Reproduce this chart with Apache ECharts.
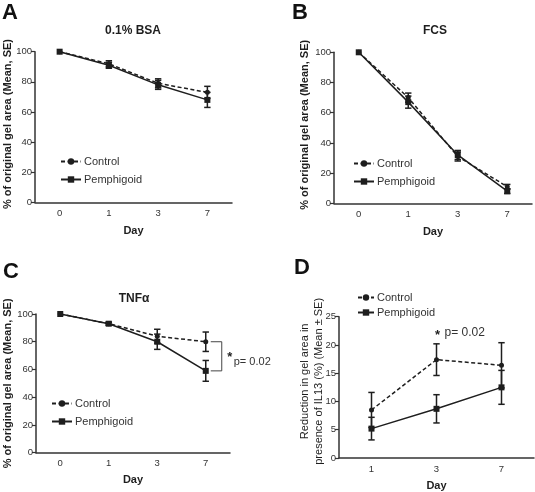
<!DOCTYPE html>
<html><head><meta charset="utf-8">
<script src="https://cdn.jsdelivr.net/npm/echarts@6/dist/echarts.min.js"></script>
<style>html,body{margin:0;padding:0;background:#fff}#c{width:535px;height:492px}</style>
</head><body><div id="c"></div>
<script>
// ---- data ----
const daysABC = ['0', '1', '3', '7'];
const daysD = ['1', '3', '7'];
const yTicks100 = [0, 20, 40, 60, 80, 100];
const yTicks25 = [0, 5, 10, 15, 20, 25];

const ctrlA = [100, 92, 79, 73];
const ctrlAErr = [0, 2, 3, 4];
const pemA = [100, 91, 78, 68];
const pemAErr = [0, 2, 3, 5];

const ctrlB = [100, 70, 31, 11];
const ctrlBErr = [0, 3, 3, 1.5];
const pemB = [100, 67, 32, 8];
const pemBErr = [0, 4, 3, 1.5];

const ctrlC = [100, 93, 84, 80];
const ctrlCErr = [0, 1, 5, 7];
const pemC = [100, 93, 80, 59];
const pemCErr = [0, 1, 5.5, 7.5];

const ctrlD = [8.5, 17.4, 16.4];
const ctrlDErr = [3.1, 2.8, 4];
const pemD = [5.2, 8.7, 12.5];
const pemDErr = [2, 2.5, 3];

const titles = ['0.1% BSA', 'FCS', 'TNF\u03b1', ''];
const letters = ['A', 'B', 'C', 'D'];
const yNameABC = '% of original gel area (Mean, SE)';
const yNameD = 'Reduction in gel area in\npresence of IL13 (%) (Mean \u00b1 SE)';
const pText = 'p= 0.02';

// ---- chart ----
const FONT = 'Liberation Sans, Arial, sans-serif';
const INK = '#1e1e1e';
const chart = echarts.init(document.getElementById('c'), null, {renderer: 'canvas'});

const grids = [
  {left: 33, top: 51.7, width: 199, height: 150.6},
  {left: 334, top: 52.3, width: 198, height: 151},
  {left: 33, top: 314, width: 197, height: 138.7},
  {left: 339, top: 316.7, width: 195, height: 141.3}
];

function xAxis(i, data, gap) {
  return {
    type: 'category', gridIndex: i, data: data, boundaryGap: true,
    name: 'Day', nameLocation: 'middle', nameGap: gap, nameMoveOverlap: false,
    nameTextStyle: {fontFamily: FONT, fontSize: 11, fontWeight: 'bold', color: INK},
    axisLine: {lineStyle: {color: '#333', width: 1.5}},
    axisTick: {alignWithLabel: true, length: 4, lineStyle: {color: '#333', width: 1.2}},
    axisLabel: {fontFamily: FONT, fontSize: 9.5, color: '#333', margin: 6},
    splitLine: {show: false}
  };
}
function yAxis(i, ticks, name, gap, weight, pad) {
  return {
    type: 'value', gridIndex: i, min: ticks[0], max: ticks[ticks.length - 1],
    interval: ticks[1] - ticks[0],
    name: name, nameLocation: 'middle', nameRotate: 90, nameGap: gap, nameMoveOverlap: false,
    nameTextStyle: {fontFamily: FONT, fontSize: 11, fontWeight: weight, color: INK, lineHeight: 14, padding: pad},
    axisLine: {show: true, lineStyle: {color: '#333', width: 1.5}},
    axisTick: {show: true, length: 4, lineStyle: {color: '#333', width: 1.2}},
    axisLabel: {fontFamily: FONT, fontSize: 9.5, color: '#333', margin: 3},
    splitLine: {show: false}
  };
}

function lineSeries(i, name, vals) {
  const ctrl = name === 'Control';
  return {
    type: 'line', name: name, xAxisIndex: i, yAxisIndex: i, data: vals,
    symbol: ctrl ? 'circle' : 'rect', symbolSize: ctrl ? 5 : 6,
    lineStyle: {color: INK, width: 1.5, type: ctrl ? [4, 2.5] : 'solid'},
    itemStyle: {color: INK},
    z: 3, animation: false
  };
}
function errSeries(i, vals, errs) {
  return {
    type: 'custom', xAxisIndex: i, yAxisIndex: i, z: 4, animation: false, silent: true,
    data: vals.map((v, k) => [k, v - errs[k], v + errs[k]]),
    renderItem: function (params, api) {
      const lo = api.coord([api.value(0), api.value(1)]);
      const hi = api.coord([api.value(0), api.value(2)]);
      if (Math.abs(hi[1] - lo[1]) < 0.5) return null;
      const w = 3.2, st = {stroke: INK, lineWidth: 1.5};
      return {type: 'group', children: [
        {type: 'line', shape: {x1: lo[0], y1: lo[1], x2: hi[0], y2: hi[1]}, style: st},
        {type: 'line', shape: {x1: lo[0] - w, y1: lo[1], x2: lo[0] + w, y2: lo[1]}, style: st},
        {type: 'line', shape: {x1: hi[0] - w, y1: hi[1], x2: hi[0] + w, y2: hi[1]}, style: st}
      ]};
    }
  };
}

// bracket with p-value in C (between the two day-7 means)
const bracketC = {
  type: 'custom', xAxisIndex: 2, yAxisIndex: 2, z: 5, animation: false, silent: true,
  data: [[3, ctrlC[3], pemC[3]]],
  renderItem: function (params, api) {
    const a = api.coord([api.value(0), api.value(1)]);
    const b = api.coord([api.value(0), api.value(2)]);
    const x1 = a[0] + 5, x2 = a[0] + 16;
    const st = {stroke: '#444', lineWidth: 1};
    return {type: 'group', children: [
      {type: 'line', shape: {x1: x1, y1: a[1], x2: x2, y2: a[1]}, style: st},
      {type: 'line', shape: {x1: x1, y1: b[1], x2: x2, y2: b[1]}, style: st},
      {type: 'line', shape: {x1: x2, y1: a[1], x2: x2, y2: b[1]}, style: st},
      {type: 'text', style: {x: x2 + 8, y: (a[1] + b[1]) / 2 + 1, text: '*', font: 'bold 13px ' + FONT, fill: INK, textAlign: 'center', textVerticalAlign: 'middle'}},
      {type: 'text', style: {x: x2 + 12, y: (a[1] + b[1]) / 2 + 6, text: pText, font: '11px ' + FONT, fill: '#333', textAlign: 'left', textVerticalAlign: 'middle'}}
    ]};
  }
};
// asterisk + p-value in D above day 3
const starD = {
  type: 'custom', xAxisIndex: 3, yAxisIndex: 3, z: 5, animation: false, silent: true,
  data: [[1, ctrlD[1] + ctrlDErr[1]]],
  renderItem: function (params, api) {
    const p = api.coord([api.value(0), api.value(1)]);
    return {type: 'group', children: [
      {type: 'text', style: {x: p[0] + 1, y: p[1] - 8, text: '*', font: 'bold 13px ' + FONT, fill: INK, textAlign: 'center', textVerticalAlign: 'middle'}},
      {type: 'text', style: {x: p[0] + 8, y: p[1] - 11, text: pText, font: '12px ' + FONT, fill: '#333', textAlign: 'left', textVerticalAlign: 'middle'}}
    ]};
  }
};

function legend(left, top, gap, w) {
  return {
    orient: 'vertical', left: left, top: top, itemGap: gap, itemWidth: w, itemHeight: 8,
    data: ['Control', 'Pemphigoid'], selectedMode: false,
    textStyle: {fontFamily: FONT, fontSize: 11, color: '#333', padding: [0, 0, 0, -2]},
    padding: 0
  };
}

const titleDefs = [];
const letterPos = [[2, 2], [292, 2], [3, 261], [294, 257]];
letters.forEach((l, i) => titleDefs.push({
  text: l, left: letterPos[i][0], top: letterPos[i][1], padding: 0,
  textStyle: {fontFamily: FONT, fontSize: 22, fontWeight: 'bold', color: '#111'}
}));
const titleCenters = [[133, 25], [435, 25], [134, 293], [0, 0]];
titles.forEach((t, i) => { if (t) titleDefs.push({
  text: t, left: titleCenters[i][0], top: titleCenters[i][1], textAlign: 'center', padding: 0,
  textStyle: {fontFamily: FONT, fontSize: 12, fontWeight: 'bold', color: INK}
}); });

const option = {
  animation: false,
  backgroundColor: '#fff',
  title: titleDefs,
  grid: grids,
  legend: [legend(60, 156, 7, 20), legend(353, 158, 7, 20), legend(51, 398, 7, 20), legend(357, 292, 4, 16)],
  xAxis: [xAxis(0, daysABC, 23), xAxis(1, daysABC, 23), xAxis(2, daysABC, 22), xAxis(3, daysD, 22)],
  yAxis: [yAxis(0, yTicks100, yNameABC, 20, 'bold', [0, 0, 0, 6]), yAxis(1, yTicks100, yNameABC, 22, 'bold', [0, 0, 0, 6]),
          yAxis(2, yTicks100, yNameABC, 21, 'bold', [0, 0, 0, 0]), yAxis(3, yTicks25, yNameD, 13, 'normal', [0, 0, 0, 12])],
  series: [
    lineSeries(0, 'Control', ctrlA), lineSeries(0, 'Pemphigoid', pemA),
    errSeries(0, ctrlA, ctrlAErr), errSeries(0, pemA, pemAErr),
    lineSeries(1, 'Control', ctrlB), lineSeries(1, 'Pemphigoid', pemB),
    errSeries(1, ctrlB, ctrlBErr), errSeries(1, pemB, pemBErr),
    lineSeries(2, 'Control', ctrlC), lineSeries(2, 'Pemphigoid', pemC),
    errSeries(2, ctrlC, ctrlCErr), errSeries(2, pemC, pemCErr),
    lineSeries(3, 'Control', ctrlD), lineSeries(3, 'Pemphigoid', pemD),
    errSeries(3, ctrlD, ctrlDErr), errSeries(3, pemD, pemDErr),
    bracketC, starD
  ]
};
chart.setOption(option);
</script></body></html>
